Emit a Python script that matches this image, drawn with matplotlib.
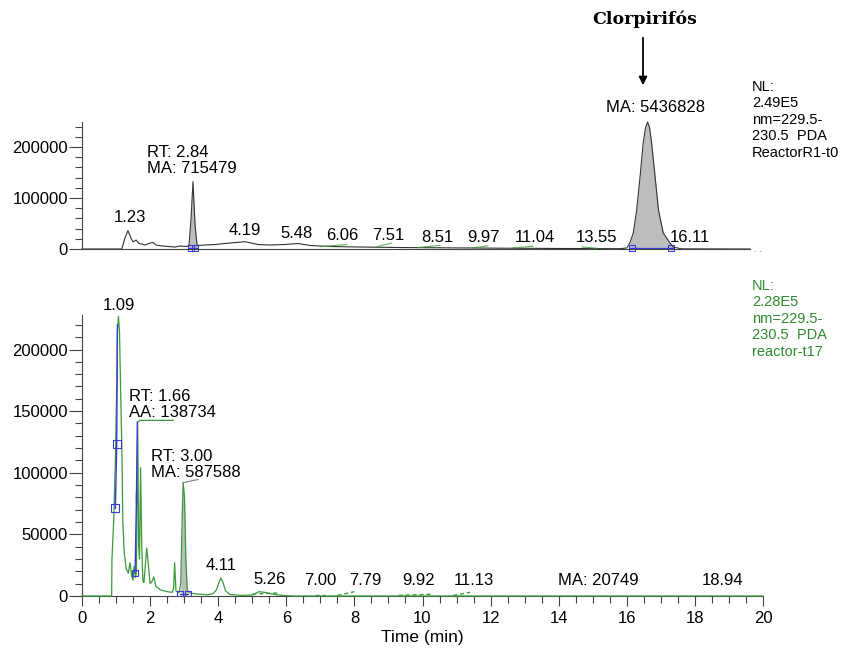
import numpy as np
import matplotlib.pyplot as plt
from matplotlib.ticker import MultipleLocator

plt.rcParams['font.family'] = ['Liberation Sans', 'DejaVu Sans']

# ---- upper chromatogram (ReactorR1-t0) ----
top_t = [0.00, 1.17, 1.26, 1.35, 1.44, 1.50, 1.59, 1.67, 1.76, 1.85,
         2.00, 2.09, 2.17, 2.35, 2.53, 2.73, 2.88, 3.05, 3.14, 3.20,
         3.26, 3.32, 3.38, 3.61, 3.91, 4.35, 4.79, 5.17, 5.52, 5.96,
         6.34, 6.70, 7.28, 8.16, 9.34, 10.51, 12.28, 14.04, 15.80, 16.00,
         16.09, 16.19, 16.29, 16.39, 16.48, 16.55, 16.61, 16.67, 16.73, 16.83,
         16.93, 17.07, 17.27, 17.36, 17.60, 19.62]
top_i = [0, 0, 21500, 36000, 21000, 14000, 17600, 10800, 9800, 7800,
         11800, 12700, 7800, 5900, 4900, 3900, 5900, 4900, 6000, 57000,
         132000, 47000, 6900, 7800, 8800, 11800, 14300, 8800, 7800, 8800,
         10800, 6900, 4900, 3900, 2900, 2400, 1600, 1000, 600, 2000,
         11800, 31400, 76500, 142000, 207000, 238000, 249000, 238000, 207000, 142000,
         76500, 31400, 11800, 4000, 300, 0]
top_peaks = [(3.14, 3.38), (16.09, 17.36)]          # shaded areas
top_labels = ['1.23', '4.19', '5.48', '6.06', '7.51', '8.51', '9.97', '11.04', '13.55', '16.11']
top_label_t = [1.41, 4.79, 6.30, 7.64, 8.99, 10.43, 11.78, 13.30, 15.12, 17.86]
top_label_i = [47000, 21500, 15500, 11500, 11500, 8500, 8500, 8500, 8500, 8500]
top_marks = [(6.99, 7.78, 4500, 8800), (8.66, 9.10, 4500, 12000), (9.87, 10.51, 3000, 7000),
             (11.48, 11.92, 2500, 6000), (12.66, 13.25, 2000, 5500), (14.68, 15.12, 4000, 1500)]

# ---- lower chromatogram (reactor-t17) ----
bot_t = [0.00, 0.87, 0.88, 0.93, 0.98, 1.02, 1.04, 1.07, 1.10, 1.14,
         1.17, 1.20, 1.24, 1.30, 1.36, 1.41, 1.46, 1.50, 1.53, 1.57,
         1.60, 1.635, 1.665, 1.69, 1.72, 1.755, 1.79, 1.82, 1.86, 1.90,
         1.95, 2.00, 2.06, 2.11, 2.17, 2.30, 2.50, 2.65, 2.69, 2.72,
         2.76, 2.85, 2.90, 2.94, 2.97, 3.01, 3.05, 3.09, 3.15, 3.40,
         3.70, 3.85, 3.95, 4.02, 4.08, 4.14, 4.22, 4.35, 4.70, 5.00,
         5.20, 5.35, 5.60, 5.90, 6.20, 20.00]
bot_i = [0, 0, 30000, 60000, 110000, 170000, 215000, 227000, 215000, 160000,
         120000, 60000, 35000, 22000, 18500, 27000, 16000, 13000, 24000, 15000,
         20000, 141000, 40000, 30000, 104000, 40000, 12000, 11000, 25000, 39000,
         25000, 10000, 12000, 15500, 8000, 5000, 3500, 3000, 6000, 27000,
         4000, 2500, 10000, 60000, 92000, 80000, 30000, 5000, 2500, 1500,
         1000, 2000, 5000, 11000, 14600, 11000, 4000, 1200, 500, 800,
         3500, 3000, 1500, 400, 0, 0]
blue1_t = [0.98, 1.02, 1.04]
blue1_i = [71000, 123000, 220000]
blue2_t = [1.56, 1.60, 1.625]
blue2_i = [19000, 80000, 141000]
bot_peak = (2.88, 3.11)
bot_labels = ['4.11', '5.26', '7.00', '7.79', '9.92', '11.13', 'MA: 20749', '18.94']
bot_label_t = [4.08, 5.50, 6.99, 8.31, 9.87, 11.51, 15.15, 18.80]
bot_label_i = [18700, 7300, 6500, 6500, 6500, 6500, 6500, 6500]
bot_marks = [(5.00, 5.80, 1500, 2500), (6.85, 7.15, 1200, 1200), (7.50, 8.00, 500, 3500),
             (9.30, 10.30, 500, 1500), (10.90, 11.40, 500, 3000)]

W, H = 854, 652
green = '#3a9a3a'
blue = '#3a3ad8'
grey_fill = '#bdbdbd'
spine_c = '#444444'

fig = plt.figure(figsize=(W / 100, H / 100), dpi=100)
ax1 = fig.add_axes([82 / W, 403 / H, 681 / W, 127 / H])
ax2 = fig.add_axes([82 / W, 56 / H, 681 / W, 281 / H])

for ax in (ax1, ax2):
    ax.spines['top'].set_visible(False)
    ax.spines['right'].set_visible(False)
    ax.spines['left'].set_color(spine_c)
    ax.spines['bottom'].set_color(spine_c)
    ax.set_xlim(0, 20)
    ax.tick_params(axis='y', which='major', length=9.5, width=0.8, color=spine_c,
                   labelsize=12, pad=0.5)
    ax.tick_params(axis='y', which='minor', length=5, width=0.8, color=spine_c)

# upper panel
ta = np.array(top_t)
ia = np.array(top_i)
ax1.set_ylim(0, 249000)
ax1.yaxis.set_major_locator(MultipleLocator(100000))
ax1.yaxis.set_minor_locator(MultipleLocator(20000))
ax1.spines['bottom'].set_bounds(0, 19.62)
ax1.set_xticks([])
for t0, t1 in top_peaks:
    m = (ta >= t0) & (ta <= t1)
    ax1.fill_between(ta[m], ia[m], color=grey_fill, lw=0)
    ax1.plot([t0, t1], [1200, 1200], color=blue, lw=0.9, clip_on=False)
    ax1.plot([t0 + 0.06, t1 - 0.06], [1200, 1200], ls='none', marker='s', ms=5,
             mfc='none', mec=blue, mew=0.8, clip_on=False)
ax1.plot(ta, ia, color='#333333', lw=0.8, clip_on=False)
for t0, t1, i0, i1 in top_marks:
    ax1.plot([t0, t1], [i0, i1], color=green, lw=0.8, alpha=0.8)
for lab, t, i in zip(top_labels, top_label_t, top_label_i):
    ax1.text(t, i, lab, ha='center', va='bottom', fontsize=12)
ax1.text(1.91, 143000, 'RT: 2.84\nMA: 715479', ha='left', va='bottom', fontsize=12,
         linespacing=1.1)
ax1.text(16.83, 262000, 'MA: 5436828', ha='center', va='bottom', fontsize=12, clip_on=False)
ax1.text(19.75, 0, '. .', ha='left', va='center', fontsize=7, color='#555555')

# lower panel
tb = np.array(bot_t)
ib = np.array(bot_i)
ax2.set_ylim(0, 228000)
ax2.yaxis.set_major_locator(MultipleLocator(50000))
ax2.yaxis.set_minor_locator(MultipleLocator(10000))
ax2.xaxis.set_major_locator(MultipleLocator(2))
ax2.xaxis.set_minor_locator(MultipleLocator(0.5))
ax2.tick_params(axis='x', which='major', length=7, width=0.8, color=spine_c,
                labelsize=12, pad=4)
ax2.tick_params(axis='x', which='minor', length=5, width=0.8, color=spine_c)
ax2.set_xlabel('Time (min)', fontsize=12.5, labelpad=3)

m = (tb >= bot_peak[0]) & (tb <= bot_peak[1])
ax2.fill_between(tb[m], ib[m], color=grey_fill, lw=0)
ax2.plot(tb, ib, color=green, lw=0.9, clip_on=False, zorder=3)
for t0, t1, i0, i1 in bot_marks:
    ax2.plot([t0, t1], [i0, i1], color=green, lw=1.0, ls=(0, (3, 2)))
ax2.plot(blue1_t, blue1_i, color=blue, lw=1.0, zorder=4)
ax2.plot(blue2_t, blue2_i, color=blue, lw=1.0, zorder=4)
ax2.plot(blue1_t[:2], blue1_i[:2], ls='none', marker='s', ms=6, mfc='none',
         mec=blue, mew=0.8, zorder=5)
ax2.plot(blue2_t[:1], blue2_i[:1], ls='none', marker='s', ms=5, mfc='none',
         mec=blue, mew=0.8, zorder=5)
ax2.plot(blue2_t[1:2], blue2_i[1:2], ls='none', marker='|', ms=8, mec=blue, mew=1, zorder=5)
ax2.plot(bot_peak, [1500, 1500], color=blue, lw=0.9, zorder=4)
ax2.plot(bot_peak, [1500, 1500], ls='none', marker='s', ms=5, mfc='none', mec=blue,
         mew=0.8, zorder=5)
# label leader lines
ax2.plot([1.635, 1.70, 2.68], [141000, 142500, 142500], color=green, lw=0.9)
ax2.plot([2.97, 3.41], [92000, 94500], color='#888888', lw=0.9)

ax2.text(1.09, 230000, '1.09', ha='center', va='bottom', fontsize=12, clip_on=False)
ax2.text(1.38, 143000, 'RT: 1.66\nAA: 138734', ha='left', va='bottom', fontsize=12,
         linespacing=1.1)
ax2.text(2.02, 94000, 'RT: 3.00\nMA: 587588', ha='left', va='bottom', fontsize=12,
         linespacing=1.1)
for lab, t, i in zip(bot_labels, bot_label_t, bot_label_i):
    ax2.text(t, i, lab, ha='center', va='bottom', fontsize=12)

# side annotations
fig.text(752 / W, 1 - 80 / H, 'NL:\n2.49E5\nnm=229.5-\n230.5  PDA\nReactorR1-t0',
         ha='left', va='top', fontsize=10.5, linespacing=1.22)
fig.text(752 / W, 1 - 279 / H, 'NL:\n2.28E5\nnm=229.5-\n230.5  PDA\nreactor-t17',
         ha='left', va='top', fontsize=10.5, linespacing=1.22, color='#2e8b2e')

fig.text(645 / W, 1 - 19 / H, 'Clorpirifós', ha='center', va='center', fontsize=12.5,
         fontweight='bold', family='DejaVu Serif')
fig.add_artist(plt.Annotation('', xy=(643 / W, 1 - 88 / H), xytext=(643 / W, 1 - 35 / H),
                              xycoords='figure fraction', textcoords='figure fraction',
                              arrowprops=dict(arrowstyle='-|>', color='black', lw=1.3,
                                              mutation_scale=12)))

fig.savefig('out.png', dpi=100)
